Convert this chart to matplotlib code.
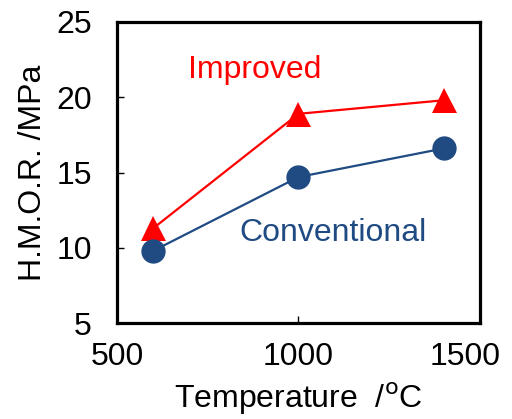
import matplotlib
matplotlib.use("Agg")
import matplotlib.pyplot as plt
from matplotlib.transforms import ScaledTranslation

plt.rcParams['font.family'] = ['Liberation Sans', 'DejaVu Sans']

temperature = [600, 1000, 1400]
improved = [11.3, 18.9, 19.8]
conventional = [9.8, 14.7, 16.6]

red = '#FF0000'
blue = '#1F4A82'

fig = plt.figure(figsize=(5.12, 4.19), dpi=100)
ax = fig.add_axes([0.2285, 0.229, 0.709, 0.7185])

ax.plot(temperature, improved, color=red, linewidth=1.6, marker='^',
        markersize=18, markeredgewidth=0, zorder=3)
ax.plot(temperature, conventional, color=blue, linewidth=1.6, marker='o',
        markersize=17.5, markeredgewidth=0, zorder=3)

ax.text(880, 21.8, 'Improved', color=red, fontsize=23, ha='center', va='center')
ax.text(1095, 11.0, 'Conventional', color=blue, fontsize=23, ha='center', va='center')

ax.set_xlim(500, 1500)
ax.set_ylim(5, 25)
ax.set_xticks([500, 1000, 1500])
ax.set_yticks([5, 10, 15, 20, 25])

ax.tick_params(direction='in', length=5, width=1, labelsize=23)
ax.tick_params(axis='y', pad=18)
ax.tick_params(axis='x', pad=14)

for s in ax.spines.values():
    s.set_linewidth(2.3)

ax.set_xlabel('Temperature  /$^{\\mathrm{o}}$C', fontsize=23, labelpad=6)
ax.set_ylabel('H.M.O.R. /MPa', fontsize=23, labelpad=6)

# last x tick label sits a little left of its tick, as in the original
last = ax.get_xticklabels()[-1]
last.set_transform(last.get_transform() + ScaledTranslation(-0.15, 0, fig.dpi_scale_trans))

fig.savefig('out.png', dpi=100)
